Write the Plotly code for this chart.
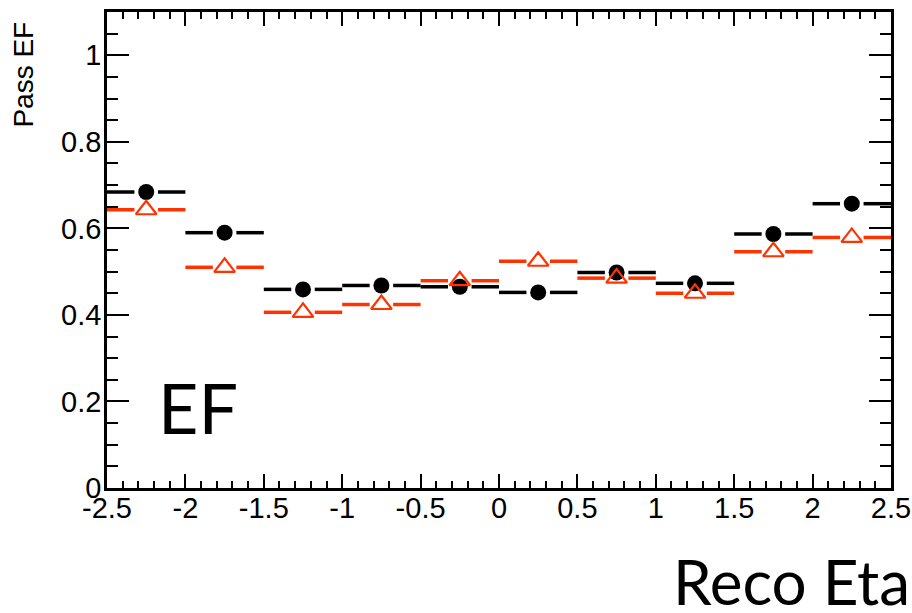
import plotly.graph_objects as go

# ---- data ----
bin_edges = [-2.5, -2.0, -1.5, -1.0, -0.5, 0.0, 0.5, 1.0, 1.5, 2.0, 2.5]
black_vals = [0.684, 0.590, 0.459, 0.468, 0.465, 0.452, 0.498, 0.473, 0.587, 0.657]
red_vals = [0.643, 0.510, 0.406, 0.424, 0.479, 0.524, 0.485, 0.450, 0.546, 0.579]
x_tickvals = [-2.5, -2, -1.5, -1, -0.5, 0, 0.5, 1, 1.5, 2, 2.5]
x_ticktext = ["-2.5", "-2", "-1.5", "-1", "-0.5", "0", "0.5", "1", "1.5", "2", "2.5"]
y_tickvals = [0, 0.2, 0.4, 0.6, 0.8, 1.0]
y_ticktext = ["0", "0.2", "0.4", "0.6", "0.8", "1"]

RED = "#ff3300"
GAP = 0.075

centers = [(bin_edges[i] + bin_edges[i + 1]) / 2 for i in range(len(bin_edges) - 1)]


def segments(vals):
    xs, ys = [], []
    for i, v in enumerate(vals):
        lo, hi, c = bin_edges[i], bin_edges[i + 1], centers[i]
        xs += [lo, c - GAP, None, c + GAP, hi, None]
        ys += [v, v, None, v, v, None]
    return xs, ys


fig = go.Figure()
bx, by = segments(black_vals)
rx, ry = segments(red_vals)
fig.add_trace(go.Scatter(x=bx, y=by, mode="lines", line=dict(color="black", width=3.5),
                         hoverinfo="skip", showlegend=False))
fig.add_trace(go.Scatter(x=centers, y=black_vals, mode="markers",
                         marker=dict(symbol="circle", size=16, color="black"),
                         showlegend=False))
fig.add_trace(go.Scatter(x=rx, y=ry, mode="lines", line=dict(color=RED, width=3.5),
                         hoverinfo="skip", showlegend=False))
fig.add_trace(go.Scatter(x=centers, y=red_vals, mode="markers",
                         marker=dict(symbol="triangle-up-open", size=18, color=RED,
                                     line=dict(color=RED, width=2.2)),
                         showlegend=False))

axis_font = dict(family="Liberation Sans, Arial, sans-serif", size=29, color="black")

fig.update_xaxes(
    range=[-2.5, 2.5], showgrid=False, zeroline=False, automargin=False,
    showline=True, linecolor="black", linewidth=2.5, mirror="allticks",
    ticks="inside", ticklen=14, tickwidth=2, tickcolor="black",
    tickvals=x_tickvals, ticktext=x_ticktext, tickfont=axis_font,
    ticklabelstandoff=-8,
    minor=dict(ticks="inside", dtick=0.1, ticklen=7, tickwidth=2, tickcolor="black"),
)
fig.update_yaxes(
    range=[0, 1.1], showgrid=False, zeroline=False, automargin=False,
    showline=True, linecolor="black", linewidth=2.5, mirror="allticks",
    ticks="inside", ticklen=22, tickwidth=2, tickcolor="black",
    tickvals=y_tickvals, ticktext=y_ticktext, tickfont=axis_font,
    ticklabelstandoff=-3,
    minor=dict(ticks="inside", dtick=0.05, tick0=0, ticklen=11, tickwidth=2, tickcolor="black"),
)

fig.update_layout(
    width=912, height=613,
    margin=dict(l=107, r=21, t=12, b=125),
    plot_bgcolor="white", paper_bgcolor="white",
    annotations=[
        dict(text="Pass EF", xref="paper", yref="paper", x=-0.1065, y=0.983,
             xanchor="center", yanchor="top", textangle=-90, showarrow=False,
             font=dict(family="Liberation Sans, Arial, sans-serif", size=28, color="black")),
        dict(text="EF", xref="paper", yref="paper", x=0.062, y=0.078,
             xanchor="left", yanchor="bottom", showarrow=False,
             font=dict(family="Lato, sans-serif", size=70, color="black")),
        dict(text="Reco Eta", xref="paper", yref="paper", x=1.027, y=-0.1134,
             xanchor="right", yanchor="top", showarrow=False,
             font=dict(family="Lato, sans-serif", size=62, color="black")),
    ],
)

fig.write_html("out.html")
